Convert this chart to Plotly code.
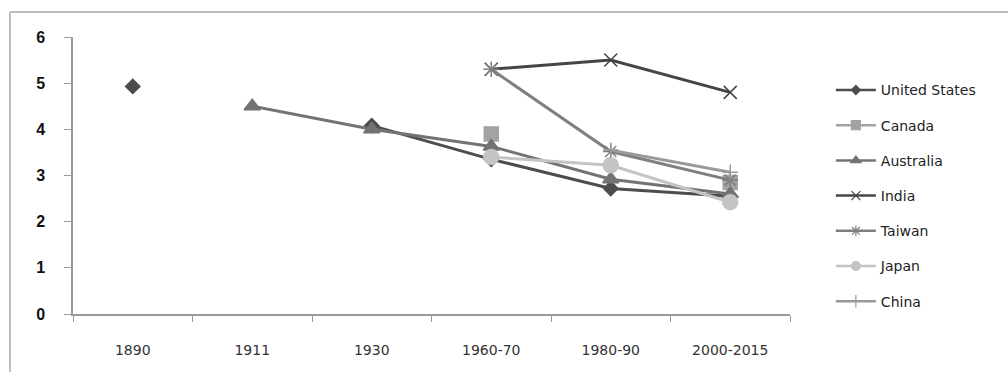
import plotly.graph_objects as go

periods = ["1890", "1911", "1930", "1960-70", "1980-90", "2000-2015"]

united_states = [4.93, None, 4.08, 3.35, 2.72, 2.55]
canada = [None, None, None, 3.90, None, 2.85]
australia = [None, 4.50, 4.00, 3.63, 2.92, 2.60]
india = [None, None, None, 5.30, 5.50, 4.80]
taiwan = [None, None, None, 5.30, 3.52, 2.90]
japan = [None, None, None, 3.40, 3.22, 2.42]
china = [None, None, None, None, 3.55, 3.07]

series = [
    ("United States", united_states, "#4d4d4d", "diamond", 11, 7),
    ("Canada", canada, "#a3a3a3", "square", 14, 9),
    ("Australia", australia, "#737373", "triangle-up", 14, 9),
    ("India", india, "#454545", "x-thin-open", 13, 9),
    ("Taiwan", taiwan, "#7f7f7f", "asterisk-open", 13, 9),
    ("Japan", japan, "#c4c4c4", "circle", 15, 9),
    ("China", china, "#999999", "cross-thin-open", 11, 9),
]

fig = go.Figure()
for i, (name, vals, color, symbol, size, lsize) in enumerate(series):
    fig.add_trace(go.Scatter(
        x=periods, y=vals, name=name, mode="lines+markers",
        connectgaps=False, showlegend=False,
        line=dict(color=color, width=3),
        marker=dict(symbol=symbol, size=size, color=color,
                    line=dict(color=color, width=1.5)),
    ))
    # legend entry with a smaller key marker
    fig.add_trace(go.Scatter(
        x=[None], y=[None], name=name, mode="lines+markers",
        legendgroup=f"g{i}",
        line=dict(color=color, width=2.5),
        marker=dict(symbol=symbol, size=lsize, color=color,
                    line=dict(color=color, width=1.2)),
    ))

fig.update_layout(
    width=1008, height=372,
    margin=dict(l=73, r=218, t=37, b=58),
    paper_bgcolor="white", plot_bgcolor="white",
    font=dict(family="Liberation Sans, Arial, sans-serif", color="#222"),
    legend=dict(
        x=1.057, xanchor="left", y=0.865, yanchor="top",
        font=dict(size=14, color="#222", family="DejaVu Sans, sans-serif"),
        tracegroupgap=14, traceorder="grouped",
        itemwidth=40, bgcolor="rgba(0,0,0,0)",
    ),
    showlegend=True,
)

fig.update_xaxes(
    type="category", range=[-0.5, 5.5],
    showline=True, linecolor="#9a9a9a", linewidth=1.5,
    ticks="outside", ticklen=6, tickcolor="#9a9a9a",
    tickson="boundaries", showgrid=False, zeroline=False,
    tickfont=dict(size=14, color="#333", family="DejaVu Sans, sans-serif"),
    ticklabelstandoff=22,
)
fig.update_yaxes(
    range=[0, 6], dtick=1,
    showline=True, linecolor="#9a9a9a", linewidth=1.5,
    ticks="outside", ticklen=7, tickcolor="#9a9a9a",
    showgrid=False, zeroline=False,
    tickfont=dict(size=16, color="#111", weight="bold",
                  family="Liberation Sans, Arial, sans-serif"),
    ticklabelstandoff=16,
)

# chart frame: left and top edges
fig.add_shape(type="line", xref="paper", yref="paper",
              x0=(10 - 73) / 717, x1=(10 - 73) / 717,
              y0=(314 - 12) / 277, y1=-0.3,
              line=dict(color="#a8a8a8", width=1.5))
fig.add_shape(type="line", xref="paper", yref="paper",
              x0=(10 - 73) / 717, x1=1.35,
              y0=(314 - 12) / 277, y1=(314 - 12) / 277,
              line=dict(color="#a8a8a8", width=1.5))

fig.write_html("out.html")
